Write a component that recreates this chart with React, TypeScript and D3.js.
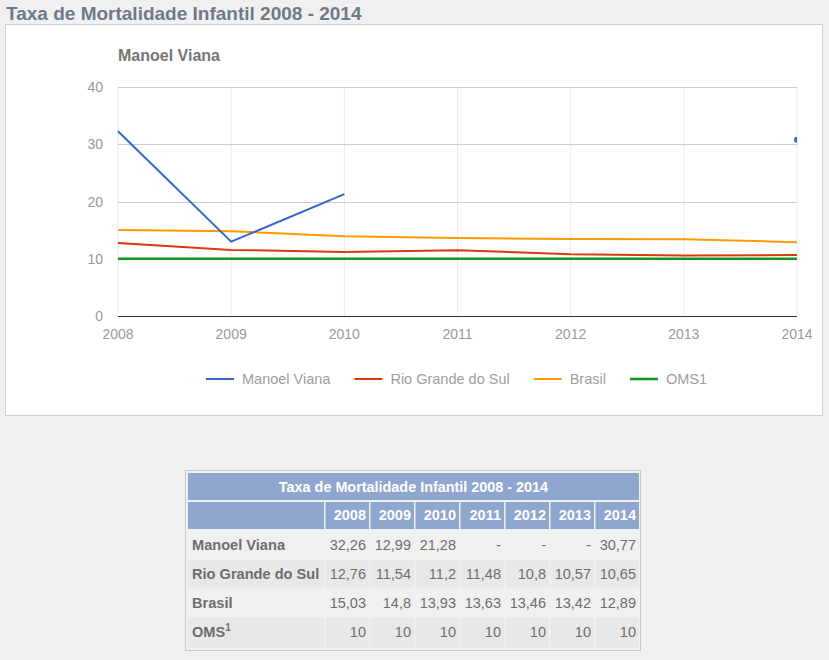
import React from "react";
import * as d3 from "d3";

const years = [2008, 2009, 2010, 2011, 2012, 2013, 2014];
const manoelViana: (number | null)[] = [32.26, 12.99, 21.28, null, null, null, 30.77];
const rioGrandeDoSul: (number | null)[] = [12.76, 11.54, 11.2, 11.48, 10.8, 10.57, 10.65];
const brasil: (number | null)[] = [15.03, 14.8, 13.93, 13.63, 13.46, 13.42, 12.89];
const oms: (number | null)[] = [10, 10, 10, 10, 10, 10, 10];
const yTicks = [0, 10, 20, 30, 40];
const seriesNames = ["Manoel Viana", "Rio Grande do Sul", "Brasil", "OMS1"];
const rowLabels = ["Manoel Viana", "Rio Grande do Sul", "Brasil", "OMS"];
const title = "Taxa de Mortalidade Infantil 2008 - 2014";

const colors = ["#3366cc", "#dc3912", "#ff9900", "#109618"];
const widths = [2, 2, 2, 2.6];
const allSeries = [manoelViana, rioGrandeDoSul, brasil, oms];

const FONT = "Arial, 'Liberation Sans', sans-serif";

function measure(text: string, font: string): number {
  const c = document.createElement("canvas");
  const ctx = c.getContext("2d")!;
  ctx.font = font;
  return ctx.measureText(text).width;
}

function fmt(v: number | null) {
  return v === null ? "-" : String(v).replace(".", ",");
}

export default function App() {
  const x = d3.scaleLinear().domain([2008, 2014]).range([118, 797]);
  const y = d3.scaleLinear().domain([0, 40]).range([316, 87]);

  const line = d3
    .line<number | null>()
    .defined((d) => d !== null)
    .x((_, i) => x(years[i]))
    .y((d) => y(d as number));

  // legend layout
  let lx = 206;
  const legend = seriesNames.map((n, i) => {
    const item = { name: n, x: lx, color: colors[i], w: widths[i] };
    lx += 28 + 8 + measure(n, `14.5px ${FONT}`) + 24;
    return item;
  });

  // table layout
  const tCols = [188, 325.5, 370.5, 415.5, 460.5, 505.5, 550.5, 595.5];
  const tColW = [136, 43.5, 43.5, 43.5, 43.5, 43.5, 43.5, 43.5];
  const rowTops = [530, 559.5, 588.5, 617.5];
  const rowH = [28, 28, 28, 30.5];
  const rowBg = ["#f0f0f0", "#e8e8e8", "#f0f0f0", "#e8e8e8"];

  // isolated points (no neighbors)
  const isolated: { s: number; i: number }[] = [];
  allSeries.forEach((s, si) => {
    s.forEach((v, i) => {
      if (v !== null && (i === 0 || s[i - 1] === null) && (i === s.length - 1 || s[i + 1] === null)) {
        isolated.push({ s: si, i });
      }
    });
  });

  return (
    <svg
      width={829}
      height={660}
      style={{ position: "absolute", left: 0, top: 0, fontFamily: FONT }}
    >
      <defs>
        <clipPath id="plotclip">
          <rect x={110} y={80} width={687} height={240} />
        </clipPath>
      </defs>
      <rect x={0} y={0} width={829} height={660} fill="#f0f0f0" />
      <text x={6} y={20} fontSize={19} fontWeight="bold" fill="#6f7a89">
        {title}
      </text>
      <rect x={5.5} y={24.5} width={817} height={391} fill="#ffffff" stroke="#cfcfcf" />
      <text x={118} y={61} fontSize={16} fontWeight="bold" fill="#757575">
        {seriesNames[0]}
      </text>

      {/* grid */}
      {years.map((yr) => (
        <line key={"v" + yr} x1={x(yr)} x2={x(yr)} y1={y(40)} y2={y(0)} stroke="#ebebeb" />
      ))}
      {yTicks.filter((t) => t > 0).map((t) => (
        <line key={"h" + t} x1={118} x2={797} y1={Math.round(y(t)) + 0.5} y2={Math.round(y(t)) + 0.5} stroke="#cccccc" />
      ))}
      {yTicks.map((t) => (
        <text key={"yl" + t} x={103} y={y(t) + 5} fontSize={14} fill="#999999" textAnchor="end">
          {t}
        </text>
      ))}
      {years.map((yr) => (
        <text key={"xl" + yr} x={x(yr)} y={339} fontSize={14} fill="#999999" textAnchor="middle">
          {yr}
        </text>
      ))}

      {/* series */}
      <g clipPath="url(#plotclip)">
        {[3, 1, 2, 0].map((si) => (
          <path
            key={"s" + si}
            d={line(allSeries[si]) || ""}
            fill="none"
            stroke={colors[si]}
            strokeWidth={widths[si]}
            strokeLinejoin="round"
          />
        ))}
        {isolated.map((p) => (
          <circle
            key={"pt" + p.s + "_" + p.i}
            cx={x(years[p.i])}
            cy={y(allSeries[p.s][p.i] as number)}
            r={3}
            fill={colors[p.s]}
          />
        ))}
      </g>
      <line x1={118} x2={797} y1={316.5} y2={316.5} stroke="#333333" />

      {/* legend */}
      {legend.map((l) => (
        <g key={"lg" + l.name}>
          <line x1={l.x} x2={l.x + 28} y1={379} y2={379} stroke={l.color} strokeWidth={l.w} />
          <text x={l.x + 36} y={384} fontSize={14.5} fill="#9e9e9e">
            {l.name}
          </text>
        </g>
      ))}

      {/* table */}
      <rect x={185.5} y={470.5} width={455} height={180} fill="#f0f0f0" stroke="#c8c8c8" />
      <rect x={188} y={473} width={451} height={27} fill="#8fa6cf" />
      <text x={413.5} y={492} fontSize={14.4} fontWeight="bold" fill="#ffffff" textAnchor="middle">
        {title}
      </text>
      {tCols.map((cx, ci) => (
        <rect key={"hd" + ci} x={cx} y={502} width={tColW[ci]} height={27} fill="#8fa6cf" />
      ))}
      {years.map((yr, i) => (
        <text
          key={"ht" + yr}
          x={tCols[i + 1] + tColW[i + 1] - 3}
          y={520}
          fontSize={14.5}
          fontWeight="bold"
          fill="#ffffff"
          textAnchor="end"
        >
          {yr}
        </text>
      ))}
      {rowLabels.map((rl, ri) => (
        <g key={"row" + ri}>
          {tCols.map((cx, ci) => (
            <rect key={"c" + ci} x={cx} y={rowTops[ri]} width={tColW[ci]} height={rowH[ri]} fill={rowBg[ri]} />
          ))}
          <text x={192} y={rowTops[ri] + 19.5} fontSize={14.6} fontWeight="bold" fill="#6e6e6e">
            {rl}
            {ri === 3 ? (
              <tspan fontSize={10} dy={-6}>
                1
              </tspan>
            ) : null}
          </text>
          {allSeries[ri].map((v, i) => (
            <text
              key={"v" + i}
              x={tCols[i + 1] + tColW[i + 1] - 3}
              y={rowTops[ri] + 19.5}
              fontSize={14.5}
              fill="#6e6e6e"
              textAnchor="end"
            >
              {fmt(v)}
            </text>
          ))}
        </g>
      ))}
    </svg>
  );
}
